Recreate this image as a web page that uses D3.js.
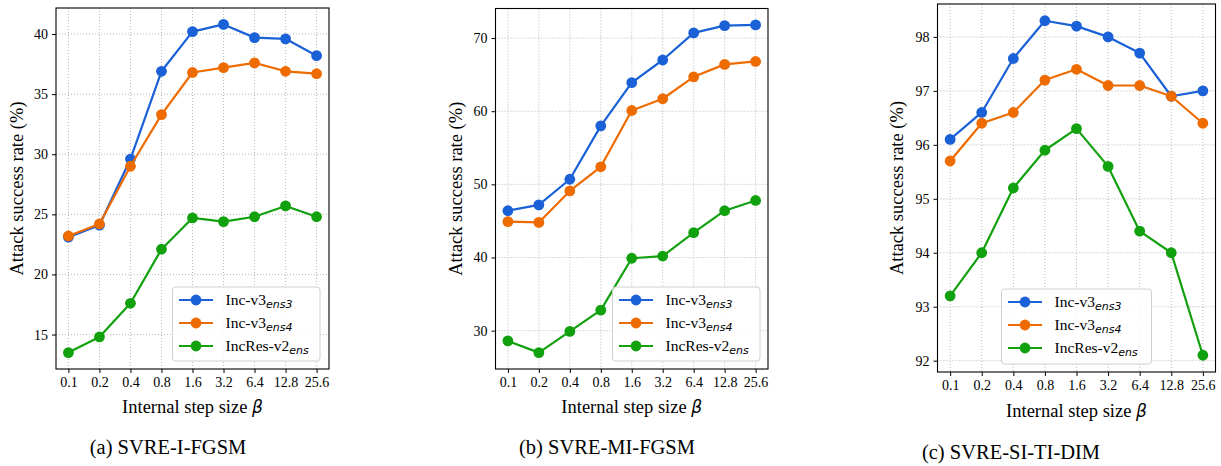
<!DOCTYPE html>
<html>
<head>
<meta charset="utf-8">
<script src="https://cdn.jsdelivr.net/npm/d3@7"></script>
<style>
  body { margin: 0; background: #fff; }
  svg { display: block; }
  .serif { font-family: "Liberation Serif", "Times New Roman", Times, "Nimbus Roman", "DejaVu Serif", serif; }
  .mathit { font-family: "DejaVu Sans", sans-serif; font-style: italic; }
</style>
</head>
<body>
<svg id="chart" width="1221" height="466"></svg>
<script>
// Data
const steps = ["0.1", "0.2", "0.4", "0.8", "1.6", "3.2", "6.4", "12.8", "25.6"];
const modelNames = [["Inc-v3", "ens3"], ["Inc-v3", "ens4"], ["IncRes-v2", "ens"]];
const colors = ["#1a61d7", "#ee6b00", "#11a00e"];

const ifgsmEns3 = [23.1, 24.1, 29.6, 36.9, 40.2, 40.8, 39.7, 39.6, 38.2];
const ifgsmEns4 = [23.2, 24.2, 29.0, 33.3, 36.8, 37.2, 37.6, 36.9, 36.7];
const ifgsmIncRes = [13.5, 14.8, 17.6, 22.1, 24.7, 24.4, 24.8, 25.7, 24.8];

const mifgsmEns3 = [46.4, 47.2, 50.7, 58.0, 63.9, 67.0, 70.7, 71.7, 71.8];
const mifgsmEns4 = [44.9, 44.8, 49.1, 52.4, 60.1, 61.7, 64.7, 66.4, 66.8];
const mifgsmIncRes = [28.6, 27.0, 29.9, 32.8, 39.9, 40.2, 43.4, 46.4, 47.8];

const sitidimEns3 = [96.1, 96.6, 97.6, 98.3, 98.2, 98.0, 97.7, 96.9, 97.0];
const sitidimEns4 = [95.7, 96.4, 96.6, 97.2, 97.4, 97.1, 97.1, 96.9, 96.4];
const sitidimIncRes = [93.2, 94.0, 95.2, 95.9, 96.3, 95.6, 94.4, 94.0, 92.1];

const ifgsmTicks = [15, 20, 25, 30, 35, 40];
const mifgsmTicks = [30, 40, 50, 60, 70];
const sitidimTicks = [92, 93, 94, 95, 96, 97, 98];

const captions = ["(a) SVRE-I-FGSM", "(b) SVRE-MI-FGSM", "(c) SVRE-SI-TI-DIM"];

const panels = [
  {
    series: [ifgsmEns3, ifgsmEns4, ifgsmIncRes], ticks: ifgsmTicks, caption: captions[0],
    box: { left: 56, right: 329, top: 8, bottom: 369 },
    ylabelX: 17, xlabelY: 413, captionX: 168, captionY: 454,
    legend: { x: 172.5, y: 287, w: 147.5, h: 74 },
  },
  {
    series: [mifgsmEns3, mifgsmEns4, mifgsmIncRes], ticks: mifgsmTicks, caption: captions[1],
    box: { left: 495.5, right: 768, top: 8.5, bottom: 369 },
    ylabelX: 456, xlabelY: 413, captionX: 607, captionY: 454,
    legend: { x: 612.5, y: 287, w: 147.5, h: 74 },
  },
  {
    series: [sitidimEns3, sitidimEns4, sitidimIncRes], ticks: sitidimTicks, caption: captions[2],
    box: { left: 937.5, right: 1215.5, top: 4, bottom: 372 },
    ylabelX: 897, xlabelY: 417, captionX: 1011, captionY: 459,
    legend: { x: 1001.5, y: 289, w: 150, h: 75 },
  },
];

const svg = d3.select("#chart");

panels.forEach((p) => {
  const b = p.box;
  const g = svg.append("g");

  // Scales (matplotlib-style 5% margins)
  const x = d3.scaleLinear().domain([-0.4, steps.length - 1 + 0.4]).range([b.left, b.right]);
  const all = p.series.flat();
  const lo = d3.min(all), hi = d3.max(all);
  const pad = (hi - lo) * 0.05;
  const y = d3.scaleLinear().domain([lo - pad, hi + pad]).range([b.bottom, b.top]);

  // Grid
  const grid = g.append("g")
    .attr("stroke", "#b0b0b0")
    .attr("stroke-width", 0.9)
    .attr("stroke-dasharray", "1,2");
  steps.forEach((s, i) => {
    grid.append("line")
      .attr("x1", x(i)).attr("x2", x(i))
      .attr("y1", b.top).attr("y2", b.bottom);
  });
  p.ticks.forEach((t) => {
    grid.append("line")
      .attr("x1", b.left).attr("x2", b.right)
      .attr("y1", y(t)).attr("y2", y(t));
  });

  // Lines and markers
  p.series.forEach((vals, k) => {
    const line = d3.line().x((d, i) => x(i)).y((d) => y(d));
    g.append("path")
      .datum(vals)
      .attr("fill", "none")
      .attr("stroke", colors[k])
      .attr("stroke-width", 2.2)
      .attr("stroke-linejoin", "round")
      .attr("d", line);
    g.append("g")
      .selectAll("circle")
      .data(vals)
      .join("circle")
      .attr("cx", (d, i) => x(i))
      .attr("cy", (d) => y(d))
      .attr("r", 5.4)
      .attr("fill", colors[k]);
  });

  // Frame
  g.append("rect")
    .attr("x", b.left).attr("y", b.top)
    .attr("width", b.right - b.left).attr("height", b.bottom - b.top)
    .attr("fill", "none")
    .attr("stroke", "#000")
    .attr("stroke-width", 1.1);

  // X axis
  const xAxis = d3.axisBottom(x)
    .tickValues(d3.range(steps.length))
    .tickFormat((i) => steps[i])
    .tickSize(4)
    .tickPadding(4);
  g.append("g")
    .attr("transform", `translate(0,${b.bottom})`)
    .call(xAxis)
    .attr("font-family", null)
    .attr("font-size", null)
    .call((a) => a.select(".domain").remove())
    .call((a) => a.selectAll(".tick line").attr("stroke", "#000").attr("stroke-width", 1))
    .selectAll("text")
    .attr("class", "serif")
    .attr("fill", "#000")
    .style("font-size", "14px");

  // Y axis
  const yAxis = d3.axisLeft(y).tickValues(p.ticks).tickFormat(d3.format("d")).tickSize(4).tickPadding(4);
  g.append("g")
    .attr("transform", `translate(${b.left},0)`)
    .call(yAxis)
    .attr("font-family", null)
    .attr("font-size", null)
    .call((a) => a.select(".domain").remove())
    .call((a) => a.selectAll(".tick line").attr("stroke", "#000").attr("stroke-width", 1))
    .selectAll("text")
    .attr("class", "serif")
    .attr("fill", "#000")
    .style("font-size", "14px");

  // Axis labels
  const xl = g.append("text")
    .attr("class", "serif")
    .attr("x", (b.left + b.right) / 2)
    .attr("y", p.xlabelY)
    .attr("text-anchor", "middle")
    .style("font-size", "18.5px");
  xl.append("tspan").text("Internal step size ");
  xl.append("tspan").attr("class", "mathit").style("font-size", "17px").text("β");

  g.append("text")
    .attr("class", "serif")
    .attr("transform", `translate(${p.ylabelX},${(b.top + b.bottom) / 2}) rotate(-90)`)
    .attr("text-anchor", "middle")
    .attr("dy", "0.35em")
    .style("font-size", "18.5px")
    .text("Attack success rate (%)");

  // Caption
  g.append("text")
    .attr("class", "serif")
    .attr("x", p.captionX)
    .attr("y", p.captionY)
    .attr("text-anchor", "middle")
    .style("font-size", "20.5px")
    .text(p.caption);

  // Legend
  const L = p.legend;
  const lg = g.append("g").attr("transform", `translate(${L.x},${L.y})`);
  lg.append("rect")
    .attr("width", L.w).attr("height", L.h)
    .attr("rx", 3)
    .attr("fill", "#fff").attr("fill-opacity", 0.85)
    .attr("stroke", "#d0d0d0").attr("stroke-width", 1);
  modelNames.forEach((nm, k) => {
    const ry = 13 + k * 23;
    lg.append("line")
      .attr("x1", 6.5).attr("x2", 40.5)
      .attr("y1", ry).attr("y2", ry)
      .attr("stroke", colors[k]).attr("stroke-width", 2.2);
    lg.append("circle")
      .attr("cx", 23.5).attr("cy", ry).attr("r", 5.4)
      .attr("fill", colors[k]);
    const t = lg.append("text")
      .attr("class", "serif")
      .attr("x", 53)
      .attr("y", ry + 5)
      .style("font-size", "15.5px");
    t.append("tspan").text(nm[0]);
    t.append("tspan")
      .attr("class", "mathit")
      .attr("dy", 3)
      .style("font-size", "11px")
      .text(nm[1]);
  });
});
</script>
</body>
</html>
